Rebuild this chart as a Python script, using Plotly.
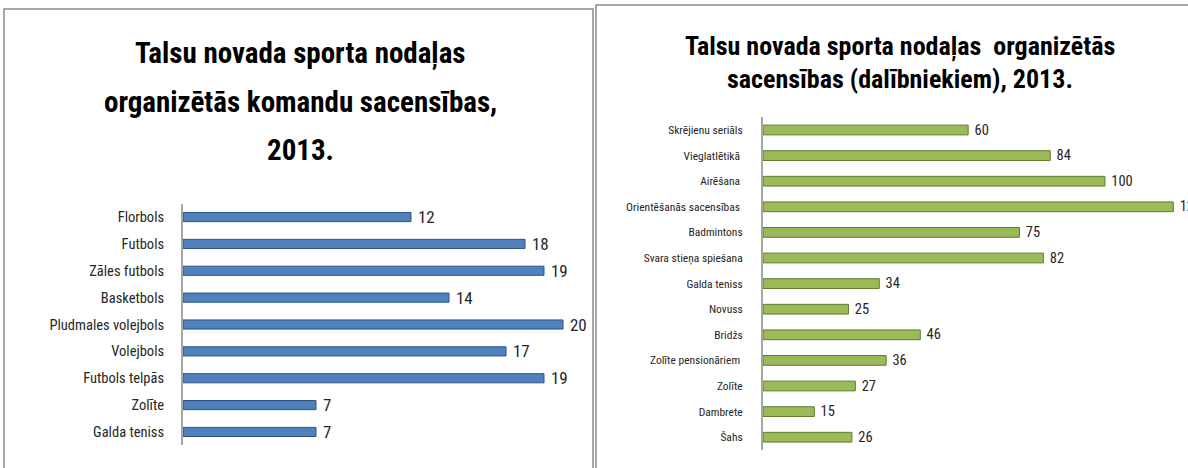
import plotly.graph_objects as go

# ---- data ----
left_categories = ["Florbols", "Futbols", "Zāles futbols", "Basketbols", "Pludmales volejbols",
                   "Volejbols", "Futbols telpās", "Zolīte", "Galda teniss"]
left_values = [12, 18, 19, 14, 20, 17, 19, 7, 7]
left_title_lines = ["Talsu novada sporta nodaļas", "organizētās komandu sacensības,", "2013."]

right_categories = ["Skrējienu seriāls", "Vieglatlētikā ", "Airēšana ", "Orientēšanās sacensības ",
                    "Badmintons", "Svara stieņa spiešana", "Galda teniss", "Novuss", "Bridžs",
                    "Zolīte pensionāriem ", "Zolīte", "Dambrete", "Šahs"]
right_values = [60, 84, 100, 120, 75, 82, 34, 25, 46, 36, 27, 15, 26]
right_title_lines = ["Talsu novada sporta nodaļas\u00a0\u00a0organizētās", "sacensības (dalībniekiem), 2013."]

W, H = 1188, 468
FONT = "Liberation Sans Narrow, Roboto Condensed, Lato, sans-serif"


def px(x):
    return x / W


def py(y):
    return 1 - y / H


fig = go.Figure()
fig.add_trace(go.Bar(
    y=left_categories, x=left_values, orientation="h",
    marker=dict(color="#4F81BD", line=dict(color="#2F5283", width=1)),
    width=0.34, texttemplate="\u00a0%{x}", textposition="outside", cliponaxis=False,
    constraintext="none",
    textfont=dict(size=17, color="#262626", family=FONT),
    xaxis="x", yaxis="y", showlegend=False, hoverinfo="x+y",
))
fig.add_trace(go.Bar(
    y=right_categories, x=right_values, orientation="h",
    marker=dict(color="#9BBB59", line=dict(color="#5E7A2C", width=1)),
    width=0.38, texttemplate="\u00a0%{x}", textposition="outside", cliponaxis=False,
    constraintext="none",
    textfont=dict(size=14.5, color="#262626", family=FONT),
    xaxis="x2", yaxis="y2", showlegend=False, hoverinfo="x+y",
))

annotations = []
for i, line in enumerate(left_title_lines):
    annotations.append(dict(
        text=line, xref="paper", yref="paper", x=px(300), y=py(66 + 48 * i),
        xanchor="center", yanchor="bottom", yshift=-7, showarrow=False,
        font=dict(size=29, color="black", family=FONT, weight="bold")))
for i, line in enumerate(right_title_lines):
    annotations.append(dict(
        text=line, xref="paper", yref="paper", x=px(900), y=py(53 + 32 * i),
        xanchor="center", yanchor="bottom", yshift=-11, showarrow=False,
        font=dict(size=26, color="black", family=FONT, weight="bold")))

fig.update_layout(
    width=W, height=H, margin=dict(l=0, r=0, t=0, b=0),
    paper_bgcolor="white", plot_bgcolor="rgba(0,0,0,0)",
    font=dict(family=FONT, color="#262626"),
    xaxis=dict(domain=[px(183), px(582)], range=[0, 21], visible=False, anchor="y"),
    yaxis=dict(domain=[py(445.4), py(203.6)], anchor="x", autorange="reversed",
               showline=True, linecolor="#A6A6A6", linewidth=2, showgrid=False,
               ticks="", ticklabelstandoff=14, tickfont=dict(size=14.5, color="#262626")),
    xaxis2=dict(domain=[px(763), px(1187)], range=[0, 124], visible=False, anchor="y2"),
    yaxis2=dict(domain=[py(450), py(117.2)], anchor="x2", autorange="reversed",
                showline=True, linecolor="#A6A6A6", linewidth=2, showgrid=False,
                ticks="", ticklabelstandoff=16, tickfont=dict(size=11.5, color="#262626")),
    shapes=[
        dict(type="rect", xref="paper", yref="paper", x0=px(4), x1=px(593), y0=py(520), y1=py(9),
             line=dict(color="#8C8C8C", width=1.5), fillcolor="rgba(0,0,0,0)"),
        dict(type="rect", xref="paper", yref="paper", x0=px(596), x1=px(1300), y0=py(520), y1=py(5),
             line=dict(color="#8C8C8C", width=1.5), fillcolor="rgba(0,0,0,0)"),
    ],
    annotations=annotations,
)

fig.write_html("out.html", config={"displayModeBar": False},
               post_script="document.body.style.margin='0';")
